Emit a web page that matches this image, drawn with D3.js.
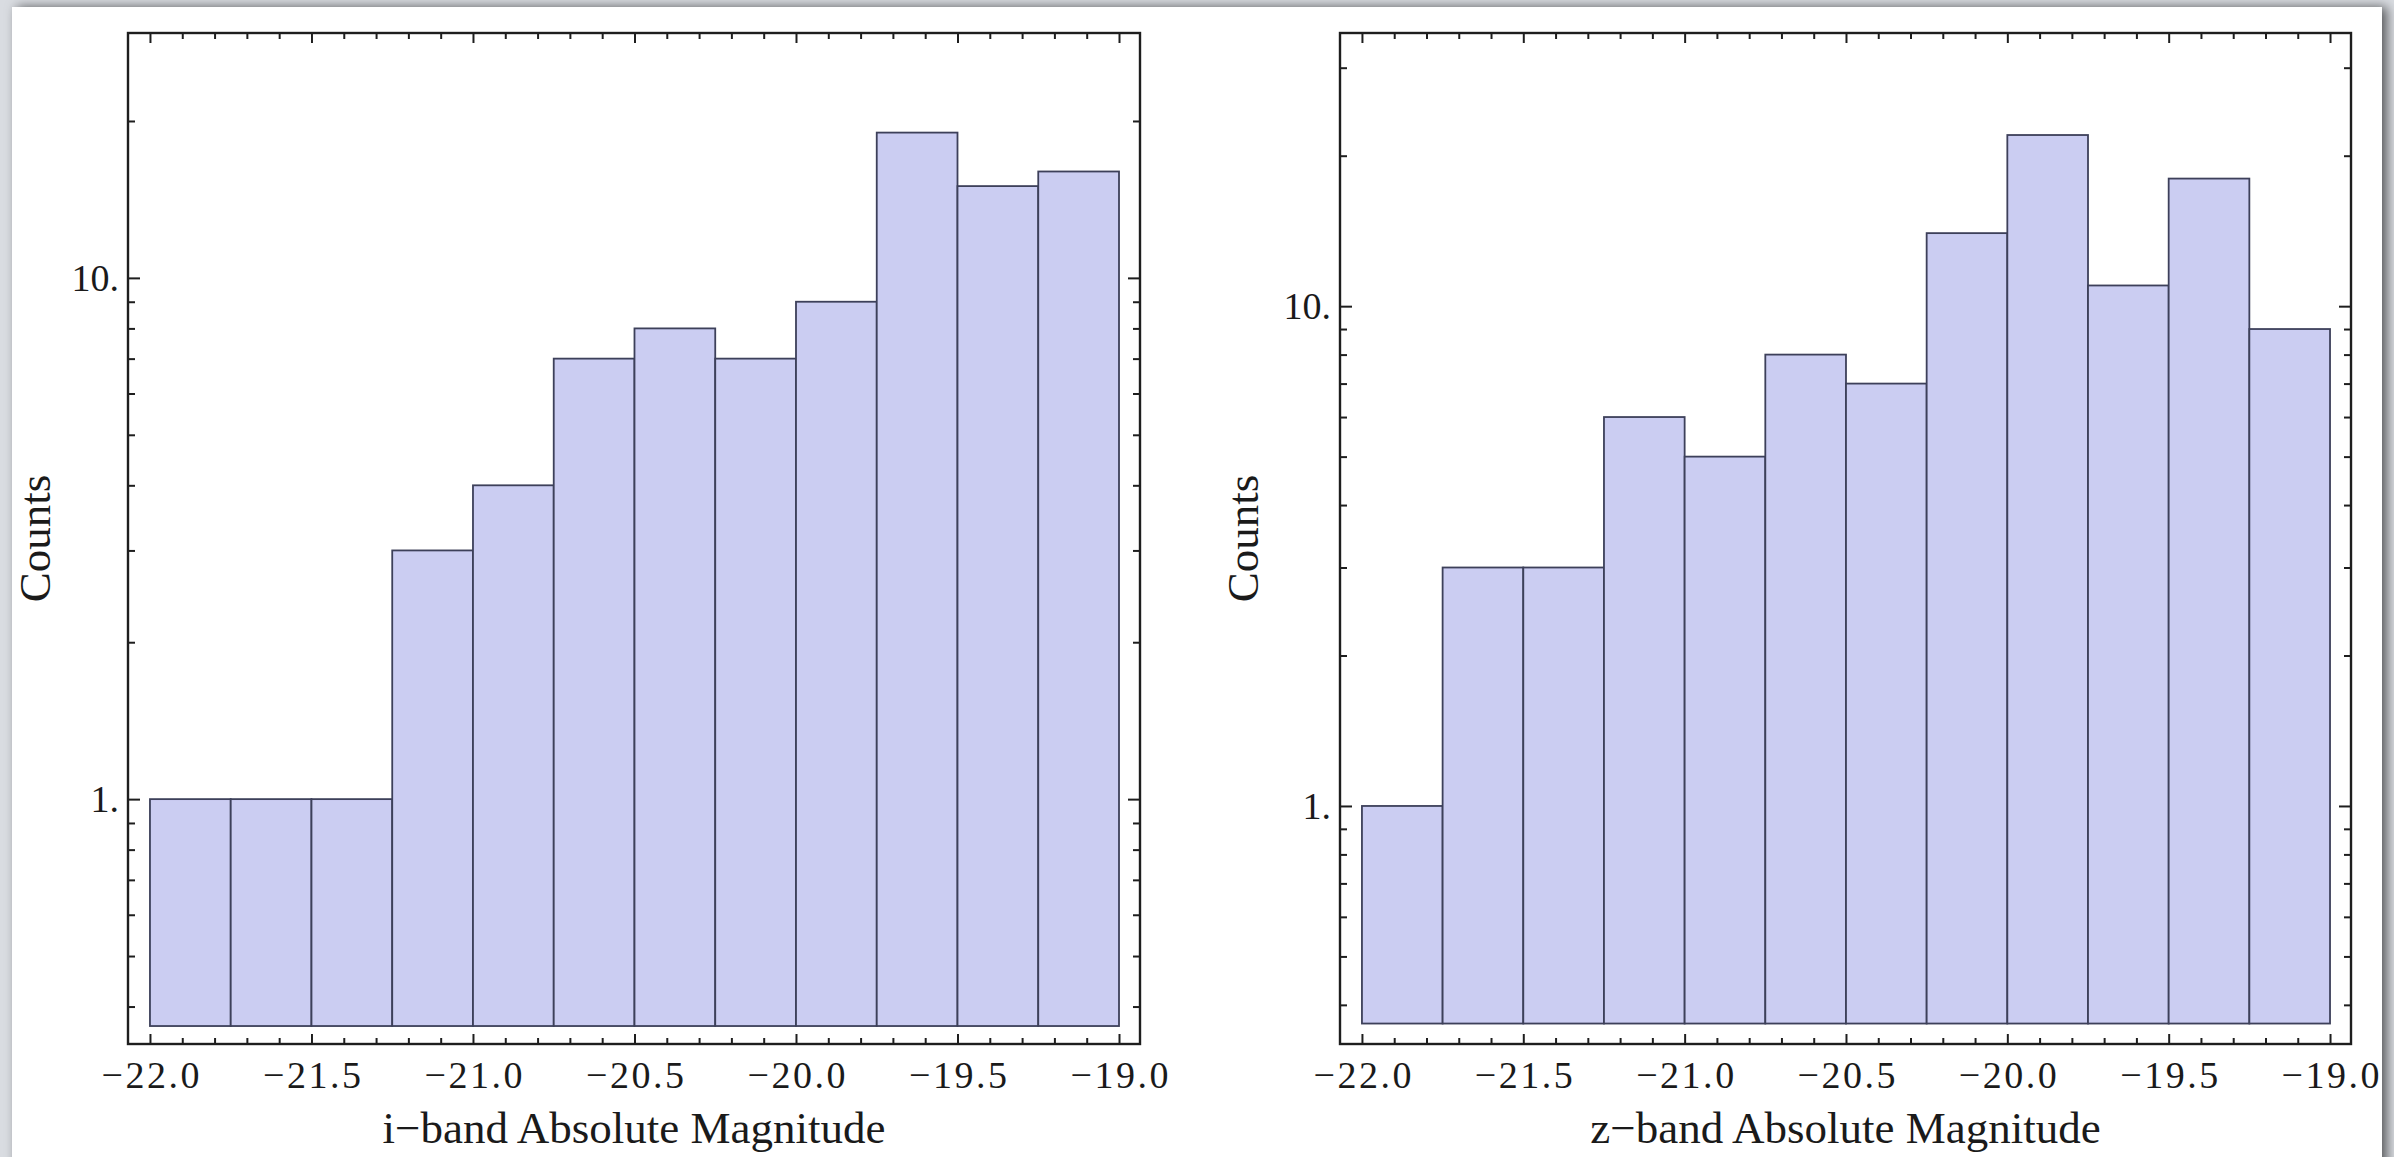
<!DOCTYPE html>
<html>
<head>
<meta charset="utf-8">
<script src="https://cdn.jsdelivr.net/npm/d3@7"></script>
<style>
  html, body { margin: 0; padding: 0; background: #d9dce1; overflow: hidden; }
  svg { display: block; }
</style>
</head>
<body>
<svg id="chart" width="2394" height="1157"></svg>
<script>
// Histogram bins: left edge of each 0.25-mag bin
const binStarts = [-22.0, -21.75, -21.5, -21.25, -21.0, -20.75, -20.5, -20.25, -20.0, -19.75, -19.5, -19.25];
const binWidth = 0.25;

// Counts per bin
const iBandCounts = [1, 1, 1, 3, 4, 7, 8, 7, 9, 19, 15, 16];
const zBandCounts = [1, 3, 3, 6, 5, 8, 7, 14, 22, 11, 18, 9];

// Tick values
const xMajorTicks = [-22.0, -21.5, -21.0, -20.5, -20.0, -19.5, -19.0];
const xMinorTicks = [-21.9, -21.8, -21.7, -21.6, -21.4, -21.3, -21.2, -21.1, -20.9, -20.8, -20.7, -20.6,
                     -20.4, -20.3, -20.2, -20.1, -19.9, -19.8, -19.7, -19.6, -19.4, -19.3, -19.2, -19.1];
const yMajorTicks = [1, 10];
const yMinorTicks = [0.3, 0.4, 0.5, 0.6, 0.7, 0.8, 0.9, 2, 3, 4, 5, 6, 7, 8, 9, 20, 30, 40];

const xLabels = ["i\u2212band Absolute Magnitude", "z\u2212band Absolute Magnitude"];
const yLabel = "Counts";

const W = 2394, H = 1157;
const svg = d3.select("#chart");

// page backdrop with soft shadow on the right
const defs = svg.append("defs");
const f = defs.append("filter").attr("id", "pageShadow")
  .attr("x", "-5%").attr("y", "-5%").attr("width", "110%").attr("height", "110%");
f.append("feDropShadow").attr("dx", 5).attr("dy", 0).attr("stdDeviation", 6)
  .attr("flood-color", "#000").attr("flood-opacity", 0.6);

svg.append("rect").attr("width", W).attr("height", H).attr("fill", "#d9dce1");
svg.append("rect").attr("x", 12).attr("y", 7).attr("width", 2370).attr("height", H + 20)
  .attr("fill", "#ffffff").attr("filter", "url(#pageShadow)");

const FONT = '"Liberation Serif", "Times New Roman", serif';
const BASE = 0.367; // histogram bar baseline on the log axis
const FILL = "#cbcdf2";
const EDGE = "#3d405a";
const FRAME = "#1e1e1e";
const INK = "#1a1a1a";

function drawPanel(cfg) {
  const g = svg.append("g");
  const x = d3.scaleLinear().domain([-22.068, -18.935]).range([cfg.left, cfg.right]);
  const y = d3.scaleLog().domain(cfg.yDomain).range([cfg.bottom, cfg.top]);

  // bars
  g.append("g").selectAll("rect")
    .data(cfg.counts.map((c, i) => ({ start: binStarts[i], count: c })))
    .join("rect")
    .attr("x", d => x(d.start))
    .attr("width", d => x(d.start + binWidth) - x(d.start))
    .attr("y", d => y(d.count))
    .attr("height", d => y(BASE) - y(d.count))
    .attr("fill", FILL)
    .attr("stroke", EDGE)
    .attr("stroke-width", 1.8);

  const inY = v => v >= cfg.yDomain[0] && v <= cfg.yDomain[1];
  const fmtX = d3.format(".1f");

  function styleAxis(sel) {
    sel.select(".domain").remove();
    sel.selectAll(".tick line").attr("stroke", FRAME).attr("stroke-width", 2);
  }

  // bottom axis: labelled major ticks + minor ticks
  g.append("g").attr("transform", `translate(0,${cfg.bottom})`)
    .call(d3.axisBottom(x).tickValues(xMajorTicks).tickSize(-10).tickPadding(17).tickFormat(fmtX))
    .call(styleAxis)
    .call(s => s.selectAll(".tick text")
      .attr("font-size", 38).attr("font-family", FONT).attr("fill", INK)
      .attr("textLength", 98).attr("lengthAdjust", "spacing"));
  g.append("g").attr("transform", `translate(0,${cfg.bottom})`)
    .call(d3.axisBottom(x).tickValues(xMinorTicks).tickSize(-6).tickFormat(""))
    .call(styleAxis);

  // top axis: mirrored ticks, no labels
  g.append("g").attr("transform", `translate(0,${cfg.top})`)
    .call(d3.axisTop(x).tickValues(xMajorTicks).tickSize(-10).tickFormat(""))
    .call(styleAxis);
  g.append("g").attr("transform", `translate(0,${cfg.top})`)
    .call(d3.axisTop(x).tickValues(xMinorTicks).tickSize(-6).tickFormat(""))
    .call(styleAxis);

  // left axis
  g.append("g").attr("transform", `translate(${cfg.left},0)`)
    .call(d3.axisLeft(y).tickValues(yMajorTicks).tickSize(-12).tickPadding(9).tickFormat(d => d + "."))
    .call(styleAxis)
    .call(s => s.selectAll(".tick text").attr("font-size", 38).attr("font-family", FONT).attr("fill", INK));
  g.append("g").attr("transform", `translate(${cfg.left},0)`)
    .call(d3.axisLeft(y).tickValues(yMinorTicks.filter(inY)).tickSize(-7).tickFormat(""))
    .call(styleAxis);

  // right axis: mirrored ticks
  g.append("g").attr("transform", `translate(${cfg.right},0)`)
    .call(d3.axisRight(y).tickValues(yMajorTicks).tickSize(-12).tickFormat(""))
    .call(styleAxis);
  g.append("g").attr("transform", `translate(${cfg.right},0)`)
    .call(d3.axisRight(y).tickValues(yMinorTicks.filter(inY)).tickSize(-7).tickFormat(""))
    .call(styleAxis);

  // frame
  g.append("rect")
    .attr("x", cfg.left).attr("y", cfg.top)
    .attr("width", cfg.right - cfg.left).attr("height", cfg.bottom - cfg.top)
    .attr("fill", "none").attr("stroke", FRAME).attr("stroke-width", 2.4);

  // axis titles
  g.append("text")
    .attr("x", (cfg.left + cfg.right) / 2).attr("y", 1143)
    .attr("text-anchor", "middle")
    .attr("font-family", FONT).attr("font-size", 45).attr("fill", INK)
    .text(cfg.xLabel);
  g.append("text")
    .attr("transform", `translate(${cfg.yLabelX},${(cfg.top + cfg.bottom) / 2}) rotate(-90)`)
    .attr("text-anchor", "middle")
    .attr("font-family", FONT).attr("font-size", 45).attr("fill", INK)
    .text(yLabel);
}

drawPanel({ left: 128, right: 1140, top: 33, bottom: 1044, yDomain: [0.339, 29.5],
            counts: iBandCounts, xLabel: xLabels[0], yLabelX: 50 });
drawPanel({ left: 1340, right: 2351, top: 33, bottom: 1044, yDomain: [0.334, 35.2],
            counts: zBandCounts, xLabel: xLabels[1], yLabelX: 1258 });
</script>
</body>
</html>
